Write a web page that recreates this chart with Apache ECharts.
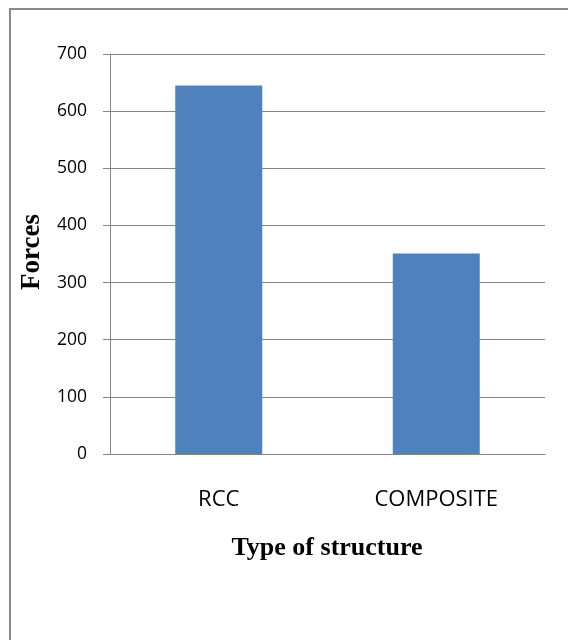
<!DOCTYPE html>
<html>
<head>
<meta charset="utf-8">
<script src="https://cdn.jsdelivr.net/npm/echarts@6/dist/echarts.min.js"></script>
<style>
  html, body { margin: 0; padding: 0; background: #ffffff; }
  #chart { width: 568px; height: 640px; }
</style>
</head>
<body>
<div id="chart"></div>
<script>
// Structure types and the force each one carries
var categories = ['RCC', 'COMPOSITE'];
var forces = [645, 351];

// Value axis ticks
var yMin = 0;
var yMax = 700;
var yStep = 100;

var xTitle = 'Type of structure';
var yTitle = 'Forces';

var chart = echarts.init(document.getElementById('chart'), null, { renderer: 'canvas' });

var axisGray = '#868686';

chart.setOption({
  animation: false,
  backgroundColor: '#ffffff',
  graphic: [
    {
      // outer frame of the chart area
      type: 'rect',
      shape: { x: 10, y: 9, width: 620, height: 700 },
      style: { fill: 'none', stroke: '#8a8a8a', lineWidth: 2 },
      silent: true,
      z: 100
    },
    {
      type: 'text',
      x: 327,
      y: 548,
      style: {
        text: xTitle,
        font: 'bold 26px "Liberation Serif", "DejaVu Serif", serif',
        fill: '#000000',
        align: 'center',
        verticalAlign: 'middle'
      }
    },
    {
      type: 'text',
      x: 32,
      y: 252,
      rotation: Math.PI / 2,
      style: {
        text: yTitle,
        font: 'bold 27px "Liberation Serif", "DejaVu Serif", serif',
        fill: '#000000',
        align: 'center',
        verticalAlign: 'middle'
      }
    }
  ],
  grid: {
    left: 110,
    right: 23,
    top: 54,
    bottom: 186,
    containLabel: false
  },
  xAxis: {
    type: 'category',
    data: categories,
    axisLine: { show: true, lineStyle: { color: axisGray, width: 1 } },
    axisTick: { show: false },
    axisLabel: {
      margin: 35,
      color: '#000000',
      fontFamily: '"Open Sans", "Liberation Sans", sans-serif',
      fontSize: 22
    },
    splitLine: { show: false }
  },
  yAxis: {
    type: 'value',
    min: yMin,
    max: yMax,
    interval: yStep,
    axisLine: { show: true, lineStyle: { color: axisGray, width: 1 } },
    axisTick: { show: true, length: 7, lineStyle: { color: axisGray, width: 1 } },
    axisLabel: {
      margin: 23,
      color: '#000000',
      fontFamily: '"Open Sans", "Liberation Sans", sans-serif',
      fontSize: 17.5
    },
    splitLine: { show: true, lineStyle: { color: axisGray, width: 1 } }
  },
  series: [
    {
      type: 'bar',
      data: forces,
      barWidth: '40%',
      itemStyle: { color: '#4F81BD' }
    }
  ]
});
</script>
</body>
</html>
